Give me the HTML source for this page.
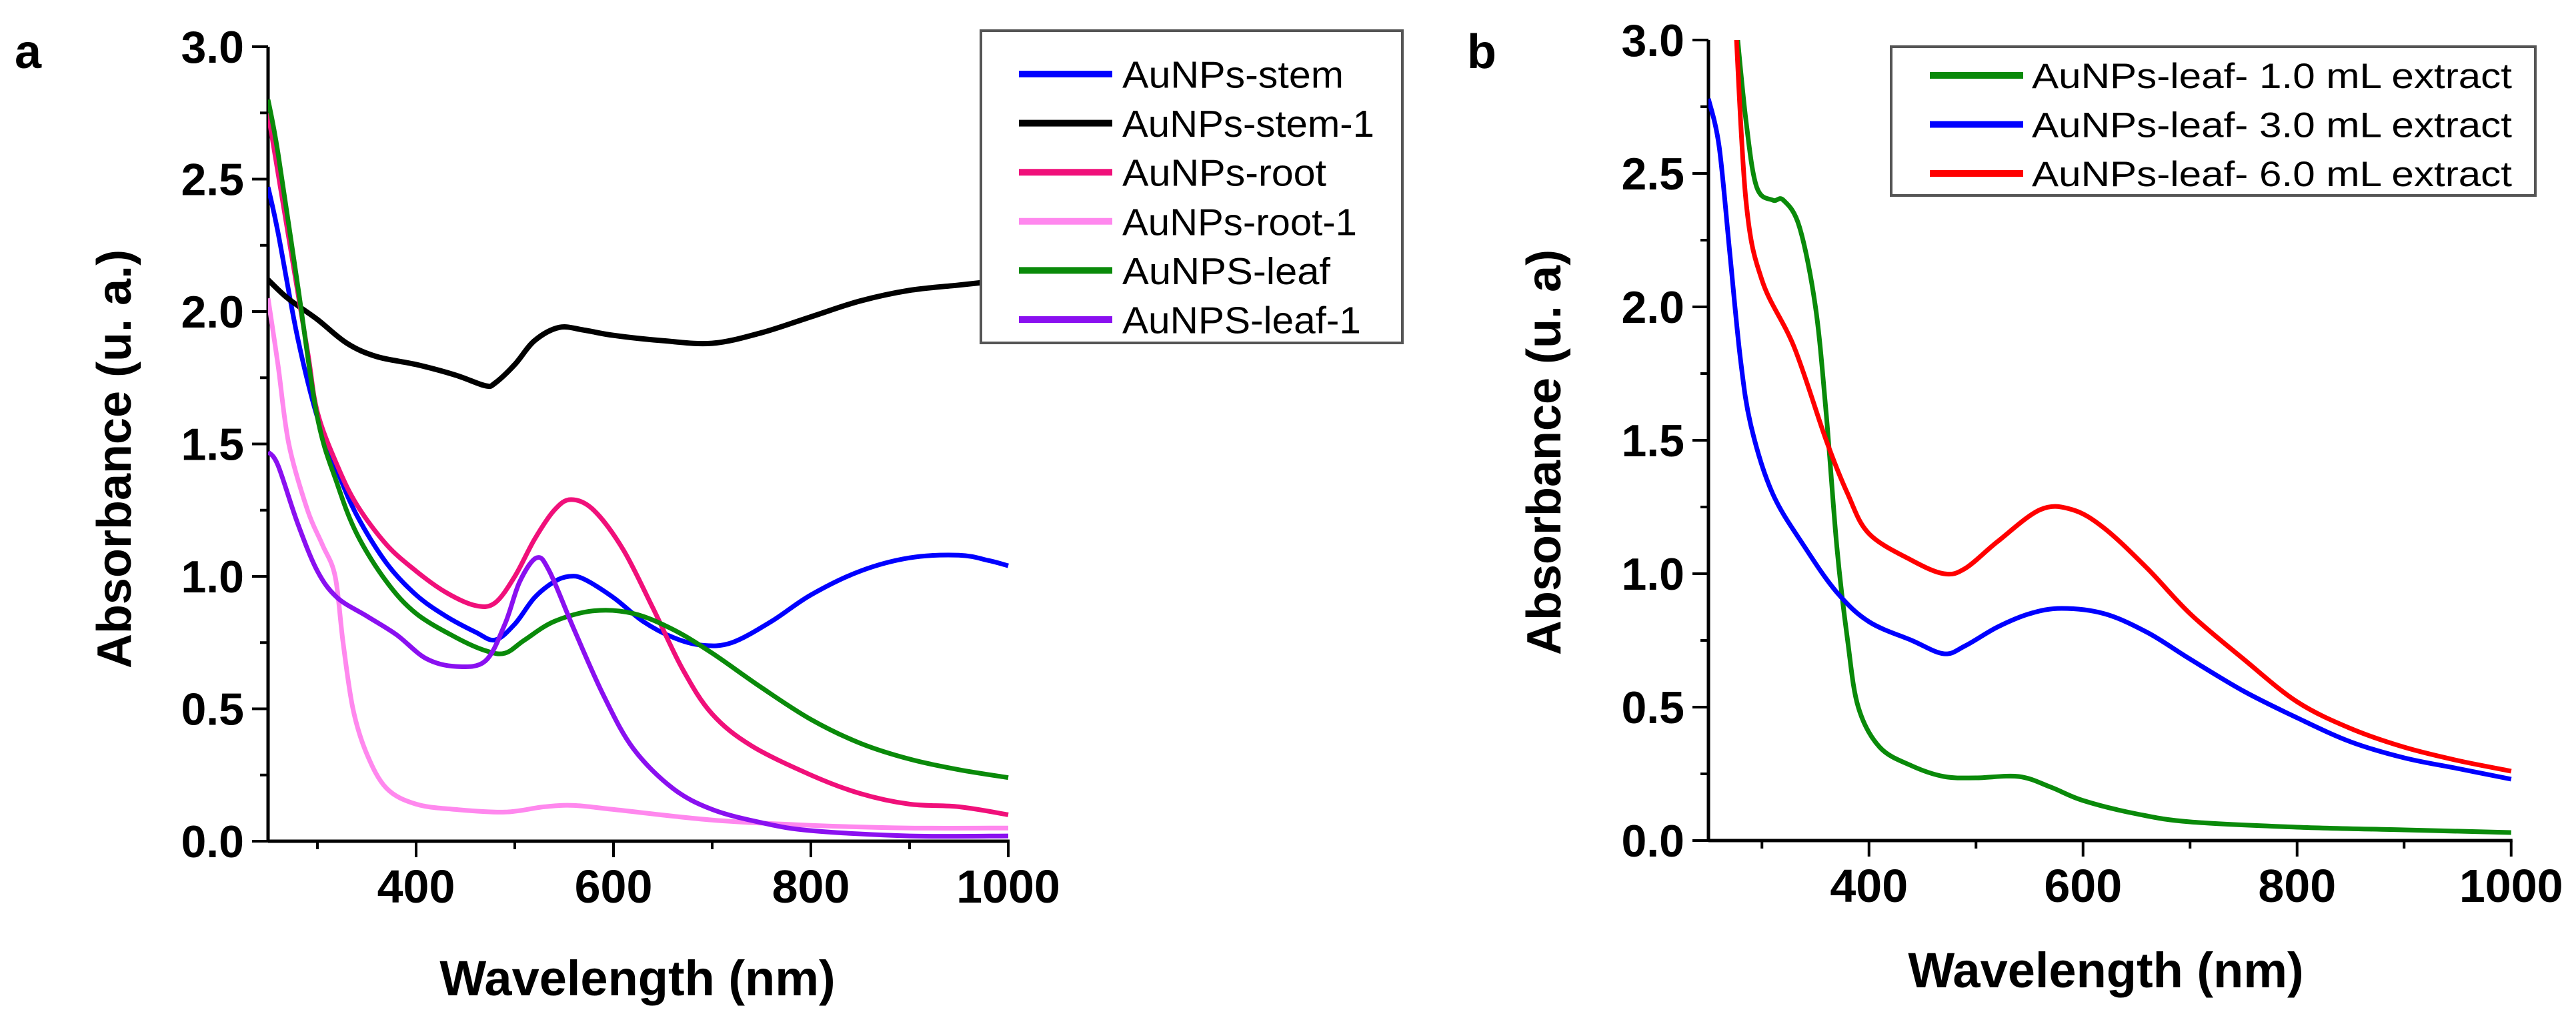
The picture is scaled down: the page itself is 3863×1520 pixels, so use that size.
<!DOCTYPE html>
<html><head><meta charset="utf-8"><style>
html,body{margin:0;padding:0;background:#fff;}
svg{display:block;font-family:"Liberation Sans",Arial,sans-serif;}
</style></head><body>
<svg id="fig" width="3863" height="1520" viewBox="0 0 3863 1520" xmlns="http://www.w3.org/2000/svg">
<defs><clipPath id="clipB"><rect x="2562" y="60" width="1210" height="1210"/></clipPath>
<clipPath id="clipA"><rect x="402" y="40" width="1115" height="1230"/></clipPath></defs>
<g id="panelA"></g>
<g id="panelB"></g>
</svg>
<script>
// Panel a data
const aStemW=[250,260,280,300,320,340,370,400,430,460,480,500,520,540,555,570,600,630,660,690,720,760,800,850,900,950,980,1000];
const aStemV=[2.47,2.3,1.9,1.6,1.4,1.23,1.05,0.93,0.85,0.79,0.76,0.82,0.92,0.98,1.0,0.99,0.92,0.83,0.77,0.74,0.75,0.83,0.93,1.02,1.07,1.08,1.06,1.04];
const aStem1W=[250,270,300,330,360,400,440,470,480,500,520,545,570,600,650,700,750,800,850,900,950,1000];
const aStem1V=[2.12,2.05,1.97,1.88,1.83,1.80,1.76,1.72,1.73,1.80,1.89,1.94,1.93,1.91,1.89,1.88,1.92,1.98,2.04,2.08,2.10,2.12];
const aRootW=[250,270,290,300,320,340,370,400,430,460,480,500,520,540,557,580,610,640,670,700,740,800,850,900,950,1000];
const aRootV=[2.75,2.3,1.85,1.62,1.42,1.27,1.12,1.02,0.94,0.89,0.9,1.0,1.14,1.25,1.29,1.25,1.1,0.88,0.65,0.48,0.36,0.25,0.18,0.14,0.13,0.10];
const aRoot1W=[250,260,271,290,305,318,326,336,350,370,400,440,490,530,560,600,700,800,900,1000];
const aRoot1V=[2.05,1.8,1.5,1.25,1.12,1.0,0.75,0.5,0.33,0.2,0.14,0.12,0.11,0.13,0.135,0.12,0.08,0.06,0.05,0.05];
const aLeafW=[250,260,280,300,320,340,370,400,440,470,490,510,540,580,620,660,700,750,800,850,900,950,1000];
const aLeafV=[2.8,2.6,2.1,1.6,1.35,1.16,0.98,0.86,0.77,0.72,0.71,0.76,0.83,0.87,0.86,0.80,0.71,0.58,0.46,0.37,0.31,0.27,0.24];
const aLeaf1W=[250,260,280,300,320,350,380,410,440,470,490,505,522,535,560,590,620,660,700,750,800,900,1000];
const aLeaf1V=[1.47,1.42,1.2,1.02,0.92,0.85,0.78,0.69,0.66,0.68,0.82,0.98,1.07,1.02,0.80,0.55,0.35,0.2,0.12,0.07,0.04,0.02,0.02];
// Panel b data
const b1W=[275,285,295,310,320,335,350,360,370,380,390,410,440,470,500,540,570,600,650,700,800,900,1000];
const b1V=[3.1,2.7,2.45,2.4,2.4,2.3,2.0,1.6,1.1,0.75,0.5,0.35,0.28,0.24,0.235,0.24,0.2,0.15,0.1,0.07,0.05,0.04,0.03];
const b3W=[250,260,270,280,290,310,340,370,400,440,470,490,520,550,580,620,660,700,750,800,850,900,950,1000];
const b3V=[2.78,2.6,2.2,1.8,1.55,1.3,1.1,0.93,0.82,0.75,0.70,0.73,0.8,0.85,0.87,0.85,0.78,0.68,0.56,0.46,0.37,0.31,0.27,0.23];
const b6W=[275,285,300,330,360,380,400,440,470,490,520,560,590,620,660,700,750,800,850,900,950,1000];
const b6V=[3.1,2.4,2.1,1.85,1.5,1.3,1.15,1.05,1.0,1.02,1.12,1.24,1.24,1.17,1.02,0.85,0.68,0.52,0.42,0.35,0.3,0.26];
const xTicks=[400,600,800,1000];
const yTicks=[0,0.5,1,1.5,2,2.5,3];
const yTickLabels=["0.0","0.5","1.0","1.5","2.0","2.5","3.0"];
const legendA=["AuNPs-stem","AuNPs-stem-1","AuNPs-root","AuNPs-root-1","AuNPS-leaf","AuNPS-leaf-1"];
const legendB=["AuNPs-leaf- 1.0 mL extract","AuNPs-leaf- 3.0 mL extract","AuNPs-leaf- 6.0 mL extract"];

const NS="http://www.w3.org/2000/svg";
function mk(tag,attrs,parent){const e=document.createElementNS(NS,tag);for(const k in attrs)e.setAttribute(k,attrs[k]);parent.appendChild(e);return e;}
function smooth(pts){
  let d='M'+pts[0][0].toFixed(1)+','+pts[0][1].toFixed(1);
  for(let i=0;i<pts.length-1;i++){
    const p0=pts[i-1]||pts[i],p1=pts[i],p2=pts[i+1],p3=pts[i+2]||p2;
    const c1x=p1[0]+(p2[0]-p0[0])/6,c1y=p1[1]+(p2[1]-p0[1])/6;
    const c2x=p2[0]-(p3[0]-p1[0])/6,c2y=p2[1]-(p3[1]-p1[1])/6;
    d+=` C${c1x.toFixed(1)},${c1y.toFixed(1)} ${c2x.toFixed(1)},${c2y.toFixed(1)} ${p2[0].toFixed(1)},${p2[1].toFixed(1)}`;
  }
  return d;
}

function buildPanel(g,P){
  const xs=w=>P.x0+(w-250)*P.kx, ys=v=>P.y0-v*P.ky;
  let ax=mk('line',{x1:P.x0,y1:P.y0,x2:xs(1000)+2,y2:P.y0,stroke:'#000','stroke-width':5},g);
  
  let ay=mk('line',{x1:P.x0,y1:P.y0+2,x2:P.x0,y2:ys(3),stroke:'#000','stroke-width':5},g);
  
  for(let w=300;w<=1000;w+=100){
    const major=xTicks.includes(w);
    const t=mk('line',{x1:xs(w),y1:P.y0,x2:xs(w),y2:P.y0+(major?24:12),stroke:'#000','stroke-width':4},g);
    
  }
  xTicks.forEach(w=>{const t=mk('text',{x:xs(w),y:P.y0+92,'text-anchor':'middle','font-size':70,'font-weight':'bold'},g);t.textContent=String(w);
    });
  for(let v=0.25;v<3;v+=0.5){const t=mk('line',{x1:P.x0,y1:ys(v),x2:P.x0-12,y2:ys(v),stroke:'#000','stroke-width':4},g);
    }
  yTicks.forEach((v,i)=>{const t=mk('line',{x1:P.x0,y1:ys(v),x2:P.x0-24,y2:ys(v),stroke:'#000','stroke-width':4},g);
    
    const l=mk('text',{x:P.x0-36,y:ys(v)+24,'text-anchor':'end','font-size':68,'font-weight':'bold'},g);l.textContent=yTickLabels[i];
    });
  const xt=mk('text',{x:P.xtX,y:P.xtY,'text-anchor':'middle','font-size':74,'font-weight':'bold'},g);xt.textContent='Wavelength (nm)';
  
  const yt=mk('text',{x:0,y:0,'text-anchor':'middle','font-size':72,'font-weight':'bold',transform:`translate(${P.ytX},${P.ytY}) rotate(-90)`},g);yt.textContent=P.ytext;
  
  const pl=mk('text',{x:P.lx,y:P.ly,'font-size':72,'font-weight':'bold'},g);pl.textContent=P.letter;
  
  const cg=mk('g',{'clip-path':P.clip},g);
  P.series.forEach(s=>{
    const pts=s.w.map((w,i)=>[xs(w),ys(s.v[i])]);
    const p=mk('path',{d:smooth(pts),fill:'none',stroke:s.c,'stroke-width':s.sw||7,'stroke-linejoin':'round'},cg);
    
  });
  const L=P.leg;
  const box=mk('rect',{x:L.x,y:L.y,width:L.w,height:L.h,fill:'#fff',stroke:'#555','stroke-width':4},g);
  
  L.labels.forEach((lab,i)=>{
    const yy=L.ey0+i*L.dy;
    const ln=mk('line',{x1:L.lx1,y1:yy,x2:L.lx2,y2:yy,stroke:P.series[L.order[i]].c,'stroke-width':10},g);
    
    const tx=mk('text',{x:L.tx,y:yy+L.fs*0.36,'font-size':L.fs,textLength:L.tl[i],lengthAdjust:'spacingAndGlyphs'},g);tx.textContent=lab;
    
  });
}
buildPanel(document.getElementById('panelA'),{x0:402,y0:1261,kx:1.48,ky:397,xtX:956,xtY:1492,ytX:196,ytY:688,ytext:'Absorbance (u. a.)',letter:'a',lx:22,ly:102,clip:'url(#clipA)',
  series:[{name:'series-aunps-stem',w:aStemW,v:aStemV,c:'#0000ff'},{name:'series-aunps-stem-1',w:aStem1W,v:aStem1V,c:'#000000',sw:8},
  {name:'series-aunps-root',w:aRootW,v:aRootV,c:'#f0107a'},{name:'series-aunps-root-1',w:aRoot1W,v:aRoot1V,c:'#ff88ee'},
  {name:'series-aunps-leaf',w:aLeafW,v:aLeafV,c:'#0a8a0a'},{name:'series-aunps-leaf-1',w:aLeaf1W,v:aLeaf1V,c:'#8a10f0'}],
  leg:{x:1471,y:46,w:632,h:468,labels:legendA,order:[0,1,2,3,4,5],ey0:111,dy:73.6,lx1:1528,lx2:1668,tx:1683,fs:57,tl:[332,378,306,352,312,358]}});
buildPanel(document.getElementById('panelB'),{x0:2562,y0:1260,kx:1.605,ky:400,xtX:3158,xtY:1480,ytX:2340,ytY:678,ytext:'Absorbance (u. a)',letter:'b',lx:2200,ly:102,clip:'url(#clipB)',
  series:[{name:'series-leaf-1ml',w:b1W,v:b1V,c:'#0a8a0a'},{name:'series-leaf-3ml',w:b3W,v:b3V,c:'#0000ff'},{name:'series-leaf-6ml',w:b6W,v:b6V,c:'#ff0000'}],
  leg:{x:2836,y:70,w:966,h:223,labels:legendB,order:[0,1,2],ey0:113,dy:73.5,lx1:2894,lx2:3034,tx:3047,fs:53,tl:[720,720,720]}});
</script>
</body></html>
